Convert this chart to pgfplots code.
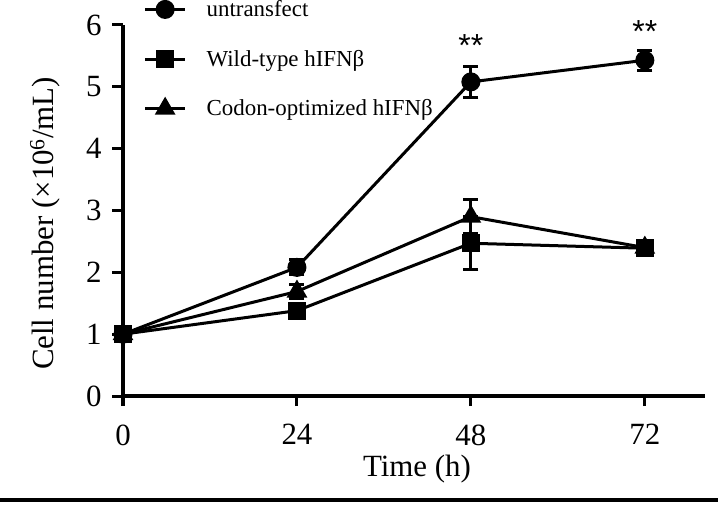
\documentclass[border=0pt]{standalone}
\usepackage{fontspec}
\setmainfont{Liberation Serif}
\newfontfamily\sansf{Liberation Sans}
\usepackage{pgfplots}
\pgfplotsset{compat=1.18}
\pgfplotstableread{
x y e
0 1 0
24 2.08 0.12
48 5.08 0.25
72 5.43 0.16
}\untr
\pgfplotstableread{
x y e
0 1 0
24 1.38 0
48 2.47 0.43
72 2.39 0
}\wild
\pgfplotstableread{
x y e
0 1 0
24 1.69 0.12
48 2.90 0.27
72 2.40 0
}\codon
\begin{document}
\begin{tikzpicture}
\useasboundingbox (-123bp,-116bp) rectangle (595bp,396bp);
\begin{axis}[
 scale only axis, width=582bp, height=371bp,
 xmin=0, xmax=80.3, ymin=0, ymax=6,
 axis x line*=bottom, axis y line*=left,
 axis line style={-, line width=3.5bp},
 xtick={0,24,48,72}, ytick={0,1,2,3,4,5,6},
 xtick pos=bottom, ytick pos=left,
 tick align=outside, major tick length=10bp,
 xtick style={draw=black, line width=3bp},
 ytick style={draw=black, line width=3bp},
 /pgf/number format/assume math mode=true,
 ticklabel style={font=\fontsize{31}{36}\selectfont},
 xticklabel style={yshift=-15bp},
 yticklabel style={xshift=-8bp},
 xlabel={Time (h)},
 ylabel={Cell number (×10\textsuperscript{6}/mL)},
 label style={font=\fontsize{31}{36}\selectfont},
 xlabel style={at={(axis description cs:0.505,-0.197)}, anchor=center},
 ylabel style={at={(axis description cs:-0.134,0.465)}, anchor=center},
 clip=false,
 reverse legend,
 legend style={at={(axis description cs:0.03,1.077)}, anchor=north west, draw=none, fill=none,
   font=\fontsize{23}{27}\selectfont, row sep=28bp, legend cell align=left},
 legend image code/.code={\draw[#1, mark repeat=2, mark phase=2] plot coordinates {(0bp,0bp) (20bp,0bp) (40bp,0bp)}; \path (58bp,0bp);},
 every axis plot/.append style={black, line width=3bp},
 error bars/error bar style={line width=3bp},
 error bars/error mark options={line width=3bp, mark size=7.5bp, rotate=90},
]
\addplot[mark=triangle*, mark size=9bp, mark options={fill=black}, error bars/.cd, y dir=both, y explicit] table[x=x, y=y, y error=e] {\codon};
\addlegendentry{Codon-optimized hIFNβ}
\addplot[mark=square*, mark size=7.5bp, mark options={fill=black}, error bars/.cd, y dir=both, y explicit] table[x=x, y=y, y error=e] {\wild};
\addlegendentry{Wild-type hIFNβ}
\addplot[mark=*, mark size=8bp, mark options={fill=black}, error bars/.cd, y dir=both, y explicit] table[x=x, y=y, y error=e] {\untr};
\addlegendentry{untransfect}
\node[font=\sansf\fontsize{32}{34}\selectfont] at (axis cs:48,5.66) {**};
\node[font=\sansf\fontsize{32}{34}\selectfont] at (axis cs:72,5.89) {**};
\end{axis}
\foreach \t in {0,24,48,72} {\fill[black] ({\t*7.2478bp-1.5bp},0bp) rectangle ({\t*7.2478bp+1.5bp},-10bp);}
\foreach \k in {0,1,2,3,4,5,6} {\fill[black] (0bp,{\k*61.8333bp-1.5bp}) rectangle (-11bp,{\k*61.8333bp+1.5bp});}
\draw[line width=4bp] (-123bp,-104bp) -- (595bp,-104bp);
\end{tikzpicture}
\end{document}
